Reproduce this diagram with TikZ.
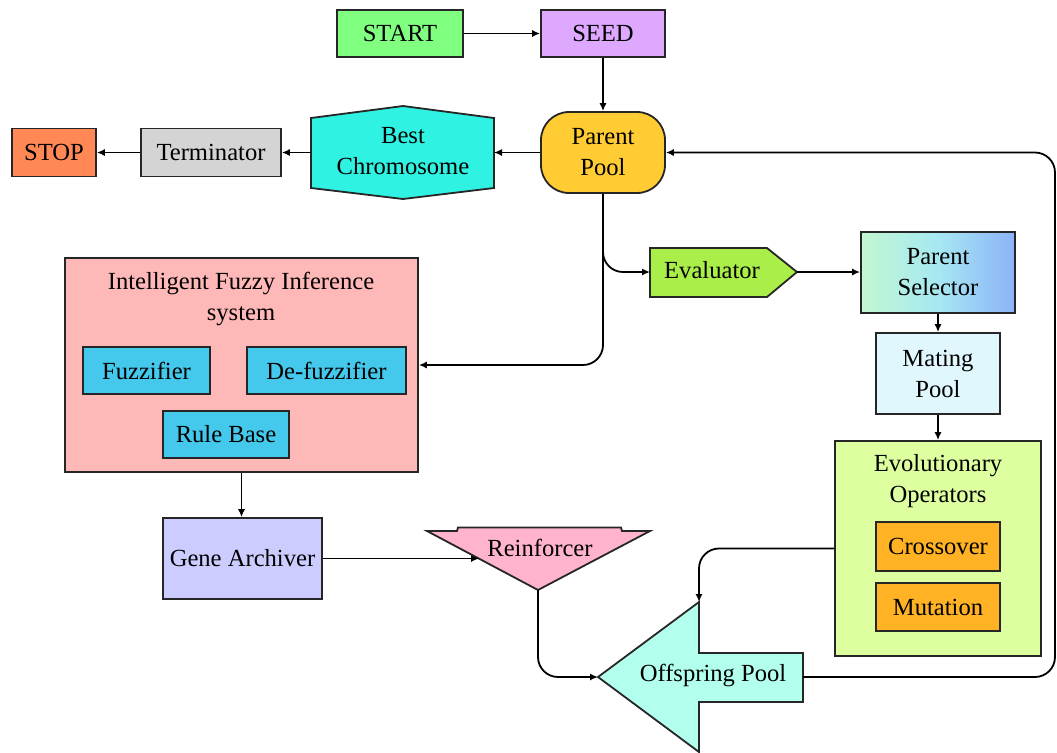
\documentclass[tikz,border=0pt]{standalone}
\usepackage{fontspec}
\setmainfont{Liberation Serif}
\newfontfamily\timesfont{Liberation Serif}
\usetikzlibrary{arrows.meta}

\definecolor{startgreen}{HTML}{80FF80}
\definecolor{seedviolet}{HTML}{DFA8FF}
\definecolor{poolgold}{HTML}{FFCC33}
\definecolor{bestcyan}{HTML}{30F2E2}
\definecolor{termgray}{HTML}{D4D4D4}
\definecolor{stoporange}{HTML}{FF8855}
\definecolor{evalgreen}{HTML}{AAEE4A}
\definecolor{selleft}{HTML}{C2F7D2}
\definecolor{selmid}{HTML}{A6E8F2}
\definecolor{selright}{HTML}{8CB2F8}
\definecolor{matecyan}{HTML}{E0F8FD}
\definecolor{evolime}{HTML}{DDFFA0}
\definecolor{opamber}{HTML}{FFB224}
\definecolor{offsaqua}{HTML}{B3FFEE}
\definecolor{reinfpink}{HTML}{FFB3CC}
\definecolor{genelav}{HTML}{CCCCFF}
\definecolor{ifisrose}{HTML}{FFB8B8}
\definecolor{fuzzblue}{HTML}{44C8EC}

\begin{document}
\begin{tikzpicture}[x=0.5pt,y=-0.5pt,
  lbl/.style={align=center,font=\timesfont\fontsize{12.3}{15.5}\selectfont},
  box/.style={lbl,draw=black!85,line width=0.9pt,inner sep=0pt},
  shp/.style={draw=black!85,line width=0.9pt},
  arr/.style={line width=0.9pt,rounded corners=10pt,-{Latex[length=4pt,width=3.6pt]}}]
  \useasboundingbox (0,0) rectangle (1057,752);

  % top row
  \node[box,fill=startgreen,minimum width=63pt,minimum height=23.5pt] (start) at (400,33.5) {START};
  \node[box,fill=seedviolet,minimum width=62pt,minimum height=23.5pt] (seed) at (603,33.5) {SEED};
  \node[box,fill=poolgold,minimum width=62pt,minimum height=40.5pt,rounded corners=14pt] (pool) at (603,152.5) {Parent\\Pool};

  % best chromosome
  \draw[shp,fill=bestcyan] (311,118) -- (403,106) -- (494,118) -- (494,188) -- (403,199) -- (311,188) -- cycle;
  \node[lbl] (best) at (403,151) {Best\\Chromosome};
  \coordinate (bestE) at (494,152.5);
  \coordinate (bestW) at (311,152.5);

  \node[box,fill=termgray,minimum width=70pt,minimum height=24pt] (term) at (211,152.5) {Terminator};
  \node[box,fill=stoporange,minimum width=42pt,minimum height=24pt] (stop) at (54,152.5) {STOP};

  % evaluator and selection
  \draw[shp,fill=evalgreen] (650,248) -- (767,248) -- (797,272) -- (767,297) -- (650,297) -- cycle;
  \node[lbl] (eval) at (712,270) {Evaluator};
  \coordinate (evalW) at (650,272);
  \coordinate (evalE) at (797,272);
  \coordinate (branch) at (603,240);

  \node[box,left color=selleft,right color=selright,middle color=selmid,minimum width=77pt,minimum height=40.5pt] (sel) at (938,272.5) {Parent\\Selector};
  \node[box,fill=matecyan,minimum width=62pt,minimum height=40.5pt] (mating) at (938,373.5) {Mating\\Pool};

  % evolutionary operators
  \node[box,fill=evolime,minimum width=103pt,minimum height=107.5pt] (evo) at (938,548.5) {};
  \node[lbl] (evotxt) at (938,481) {Evolutionary\\Operators};
  \node[box,fill=opamber,minimum width=62pt,minimum height=24.5pt] (cross) at (938,546.5) {Crossover};
  \node[box,fill=opamber,minimum width=62pt,minimum height=24pt] (mut) at (938,607) {Mutation};

  % fuzzy inference system
  \node[box,fill=ifisrose,minimum width=176.5pt,minimum height=107pt] (ifis) at (241.5,365) {};
  \node[lbl] (ifistxt) at (241,299) {Intelligent Fuzzy Inference\\system};
  \node[box,fill=fuzzblue,minimum width=63.5pt,minimum height=23.5pt] (fuzz) at (146.5,370.5) {Fuzzifier};
  \node[box,fill=fuzzblue,minimum width=79.5pt,minimum height=23.5pt] (defuzz) at (326.5,370.5) {De-fuzzifier};
  \node[box,fill=fuzzblue,minimum width=63pt,minimum height=23.5pt] (rules) at (226,434.5) {Rule Base};

  \node[box,fill=genelav,minimum width=79.5pt,minimum height=40.5pt] (gene) at (242.5,558.5) {Gene Archiver};

  % reinforcer
  \draw[shp,fill=reinfpink] (427,531) -- (457,531) -- (458,527.5) -- (621,527.5) -- (622,531) -- (650,531) -- (538,590) -- cycle;
  \node[lbl] (reinf) at (540,548) {Reinforcer};
  \coordinate (reinfW) at (479,558.5);
  \coordinate (reinfS) at (538,590);

  % offspring pool
  \draw[shp,fill=offsaqua] (598,677) -- (699,602) -- (699,653) -- (803,653) -- (803,702) -- (699,702) -- (699,752) -- cycle;
  \node[lbl] (offs) at (713,675) {Offspring Pool};
  \coordinate (offsW) at (598,677);
  \coordinate (offsN) at (699,602);
  \coordinate (offsE) at (803,677);
  \coordinate (loopS) at (1055,677);
  \coordinate (loopN) at (1055,152.5);

  % connections
  \draw[arr] (start) -- (seed);
  \draw[arr] (seed) -- (pool);
  \draw[arr] (pool) -- (bestE);
  \draw[arr] (bestW) -- (term);
  \draw[arr] (term) -- (stop);
  \draw[arr] (pool.south) |- (ifis.east);
  \draw[arr] (branch) |- (evalW);
  \draw[arr] (evalE) -- (sel.west |- evalE);
  \draw[arr] (sel) -- (mating);
  \draw[arr] (mating) -- (evo);
  \draw[arr] (ifis.south) -- (gene.north -| ifis.south);
  \draw[arr] (gene.east) -- (reinfW);
  \draw[arr] (reinfS) |- (offsW);
  \draw[arr] (evo.west) -| (offsN);
  \draw[arr] (offsE) -- (loopS) -- (loopN) -- (pool.east);
\end{tikzpicture}
\end{document}
